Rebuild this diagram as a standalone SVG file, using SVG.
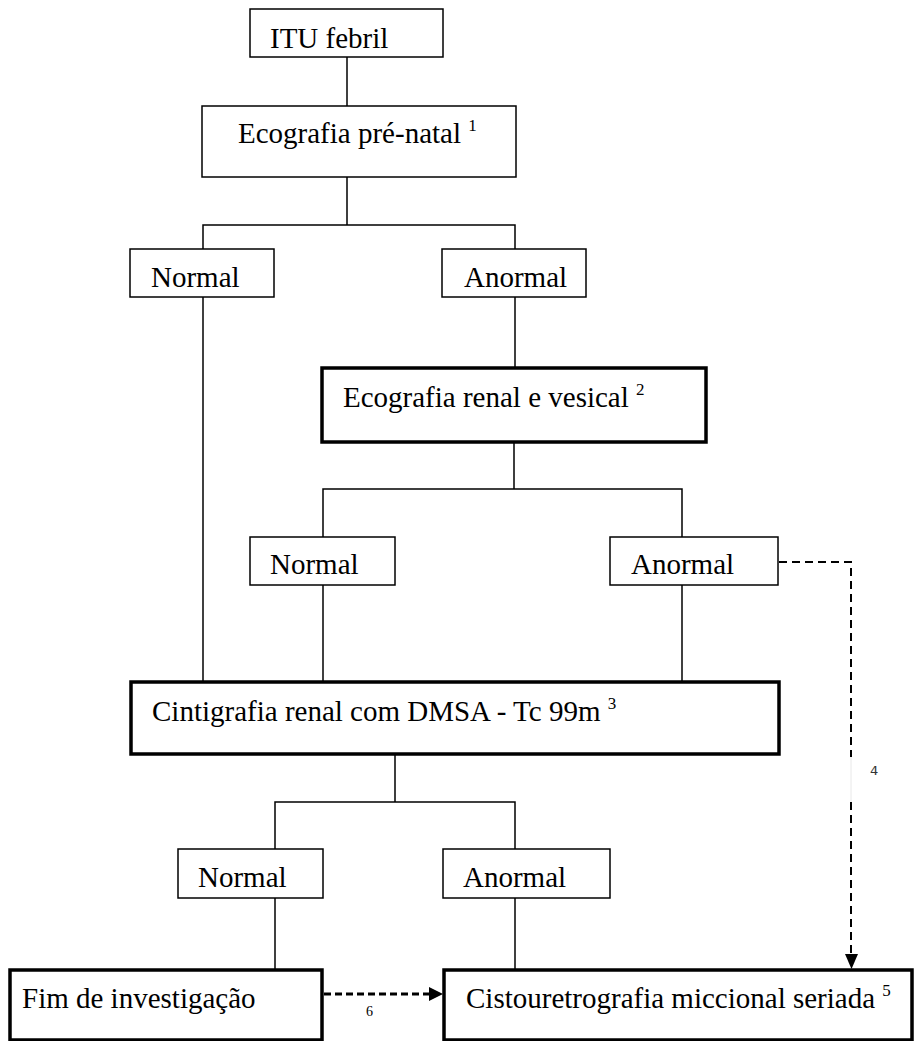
<svg xmlns="http://www.w3.org/2000/svg" width="914" height="1041" viewBox="0 0 914 1041">
<style>
.box{fill:#fff;stroke:#000;stroke-width:1.5}
.thick{fill:#fff;stroke:#000;stroke-width:3.5}
.t{font-family:"Liberation Serif","Times New Roman",serif;font-size:29px;fill:#000}
.sup{font-family:"Liberation Serif","Times New Roman",serif;font-size:17px;fill:#000}
.ln{fill:none;stroke:#000;stroke-width:1.5}
.dash{fill:none;stroke:#000;stroke-width:2;stroke-dasharray:8 5}
.dash6{fill:none;stroke:#000;stroke-width:3;stroke-dasharray:7 4}
</style>
<defs>
<marker id="ah" markerWidth="10" markerHeight="10" refX="9" refY="5" orient="auto" markerUnits="userSpaceOnUse" viewBox="0 0 10 10">
<path d="M0,0 L10,5 L0,10 z" fill="#000"/>
</marker>
</defs>
<g id="connectors">
<path class="ln" d="M347,57 V106"/>
<path class="ln" d="M347,177 V225 M203,249 V225 H515 V249"/>
<path class="ln" d="M203,297 V682"/>
<path class="ln" d="M515,297 V368"/>
<path class="ln" d="M514,442 V489 M323,537 V489 H682 V537"/>
<path class="ln" d="M323,585 V682"/>
<path class="ln" d="M682,585 V682"/>
<path class="ln" d="M395,754 V802 M275,849 V802 H515 V849"/>
<path class="ln" d="M275,898 V970"/>
<path class="ln" d="M515,898 V970"/>
<path class="dash" d="M779,562 H851 V757"/>
<path fill="none" stroke="#e8e8e8" stroke-width="1" d="M851,757 V802"/>
<path class="dash" d="M851,802 V956"/>
<path d="M845,954 L858,954 L851.5,969 z" fill="#000"/>
<text x="870" y="775" font-family="DejaVu Sans,sans-serif" font-size="13" fill="#333">4</text>
<path class="dash6" d="M324,994 H430"/>
<path d="M429,987 L443,994 L429,1001 z" fill="#000"/>
<text x="366" y="1016" font-family="Liberation Serif,serif" font-size="14" fill="#000">6</text>
</g>
<g id="n-itu"><rect class="box" x="250" y="9" width="193" height="48"/><text class="t" x="270" y="48">ITU febril</text></g>
<g id="n-ecoprenatal"><rect class="box" x="202" y="106" width="314" height="71"/><text class="t" x="238" y="143">Ecografia pré-natal <tspan class="sup" dy="-12">1</tspan></text></g>
<g id="n-normal1"><rect class="box" x="130" y="249" width="144" height="48"/><text class="t" x="151" y="287">Normal</text></g>
<g id="n-anormal1"><rect class="box" x="442" y="249" width="144" height="48"/><text class="t" x="464" y="287">Anormal</text></g>
<g id="n-ecorenal"><rect class="thick" x="322" y="368" width="384" height="74"/><text class="t" x="343" y="407">Ecografia renal e vesical <tspan class="sup" dy="-12">2</tspan></text></g>
<g id="n-normal2"><rect class="box" x="250" y="537" width="145" height="48"/><text class="t" x="270" y="574">Normal</text></g>
<g id="n-anormal2"><rect class="box" x="610" y="537" width="168" height="48"/><text class="t" x="631" y="574">Anormal</text></g>
<g id="n-cinti"><rect class="thick" x="131" y="682" width="648" height="72"/><text class="t" x="152" y="721">Cintigrafia renal com DMSA - Tc 99m <tspan class="sup" dy="-12">3</tspan></text></g>
<g id="n-normal3"><rect class="box" x="178" y="849" width="145" height="49"/><text class="t" x="198" y="887">Normal</text></g>
<g id="n-anormal3"><rect class="box" x="443" y="849" width="167" height="49"/><text class="t" x="463" y="887">Anormal</text></g>
<g id="n-fim"><rect class="thick" x="10" y="970" width="312" height="70"/><text class="t" x="22" y="1008">Fim de investigação</text></g>
<g id="n-cisto"><rect class="thick" x="444" y="970" width="468" height="70"/><text class="t" x="466" y="1008">Cistouretrografia miccional seriada <tspan class="sup" dy="-12">5</tspan></text></g>
</svg>
